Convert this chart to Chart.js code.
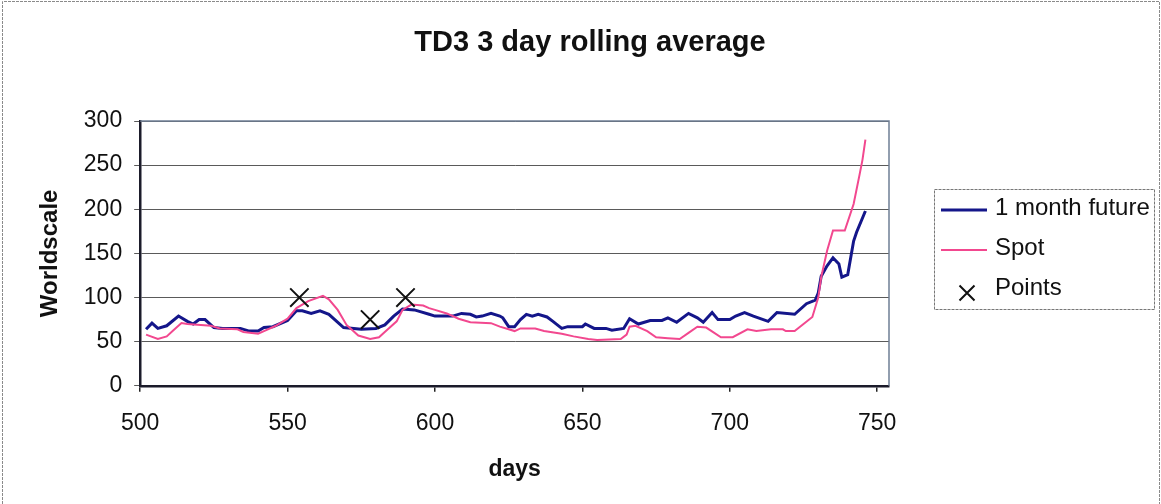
<!DOCTYPE html>
<html>
<head>
<meta charset="utf-8">
<title>TD3 3 day rolling average</title>
<script src="https://cdn.jsdelivr.net/npm/chart.js@4.4.1/dist/chart.umd.min.js"></script>
<style>
  html, body { margin: 0; padding: 0; background: #ffffff; }
  #wrap { width: 1161px; height: 504px; position: relative; }
</style>
</head>
<body>
<div id="wrap"><canvas id="c" width="1161" height="504"></canvas></div>
<script>
// 1 month future, 3 day rolling average (Worldscale)
const futureDays = [502, 504, 506, 509, 513, 516, 518, 520, 522, 525, 528, 534, 537, 540, 542, 545, 550, 553, 555, 558,
  561, 564, 566, 569, 575, 580, 583, 586, 589, 593, 595, 598, 600, 602, 606, 609, 612, 614, 616, 619,
  622, 623, 625, 627, 629, 631, 633, 635, 638, 640, 643, 645, 650, 651, 654, 658, 660, 664, 666, 669,
  673, 677, 679, 682, 686, 689, 691, 694, 696, 700, 702, 705, 708, 713, 716, 722, 726, 729, 730, 731,
  733, 735, 737, 738, 740, 742, 743, 746];
const futureValues = [64, 71, 65, 68, 79, 73, 70, 75, 75, 66, 65, 65, 62, 62, 66, 67, 74, 85, 85, 82,
  85, 81, 75, 66, 64, 65, 69, 79, 87, 86, 84, 81, 79, 79, 79, 82, 81, 78, 79, 82,
  79, 77, 67, 67, 75, 81, 79, 81, 78, 73, 65, 67, 67, 70, 65, 65, 63, 65, 76, 70,
  74, 74, 77, 72, 82, 77, 72, 83, 75, 75, 79, 83, 79, 73, 83, 81, 93, 97, 105, 124,
  136, 145, 138, 123, 126, 164, 174, 198];

// Spot, 3 day rolling average (Worldscale)
const spotDays = [502, 506, 509, 511, 514, 516, 524, 527, 533, 535, 540, 542, 546, 550, 553, 557, 562, 564, 567, 570,
  574, 578, 581, 584, 587, 589, 592, 596, 598, 600, 604, 608, 612, 619, 622, 625, 627, 629, 634, 637,
  643, 647, 652, 655, 663, 665, 666, 668, 672, 675, 679, 683, 686, 689, 692, 697, 701, 706, 709, 714,
  718, 719, 722, 725, 728, 730, 731, 733, 735, 739, 742, 744, 745, 746];
const spotValues = [58, 53, 56, 62, 71, 70, 68, 65, 64, 61, 59, 62, 68, 76, 88, 96, 102, 98, 86, 69,
  57, 53, 55, 64, 73, 86, 92, 91, 88, 86, 82, 76, 72, 71, 67, 64, 62, 65, 65, 62,
  59, 56, 53, 52, 53, 58, 67, 68, 62, 55, 54, 53, 60, 67, 66, 55, 55, 64, 62, 64,
  64, 62, 62, 70, 78, 100, 123, 153, 176, 176, 206, 239, 256, 279];

// Marked points
const pointDays = [554, 578, 590];
const pointValues = [100, 75, 100];

// Axis ranges and tick steps
const xRange = [500, 754];
const yRange = [0, 300];
const tickStep = 50;

const chartTitle = 'TD3 3 day rolling average';

const toXY = (xs, ys) => xs.map((x, i) => ({ x: x, y: ys[i] }));

const FONT = '"Liberation Sans", Arial, Helvetica, sans-serif';

// white background and thin frame round the whole chart
const frame = {
  id: 'frame',
  beforeDraw(chart) {
    const ctx = chart.ctx;
    ctx.save();
    ctx.fillStyle = '#ffffff';
    ctx.fillRect(0, 0, chart.width, chart.height);
    ctx.strokeStyle = '#8a8a8a';
    ctx.lineWidth = 1;
    ctx.setLineDash([3, 1]);
    ctx.beginPath();
    ctx.moveTo(2.5, chart.height);
    ctx.lineTo(2.5, 1.5);
    ctx.lineTo(chart.width - 1.5, 1.5);
    ctx.lineTo(chart.width - 1.5, chart.height);
    ctx.stroke();
    ctx.restore();
  }
};

// chart heading, centred over the whole picture
const heading = {
  id: 'heading',
  afterDraw(chart) {
    const ctx = chart.ctx;
    ctx.save();
    ctx.font = 'bold 29px ' + FONT;
    ctx.fillStyle = '#111111';
    ctx.textAlign = 'center';
    ctx.textBaseline = 'middle';
    ctx.fillText(chartTitle, 590, 43);
    ctx.restore();
  }
};

// plot area border (top and right edges)
const plotBorder = {
  id: 'plotBorder',
  beforeDatasetsDraw(chart) {
    const { ctx, chartArea: a } = chart;
    ctx.save();
    ctx.strokeStyle = '#6f7f95';
    ctx.lineWidth = 1.5;
    ctx.beginPath();
    ctx.moveTo(a.left, a.top);
    ctx.lineTo(a.right, a.top);
    ctx.lineTo(a.right, a.bottom);
    ctx.stroke();
    ctx.restore();
  }
};

// boxed legend on the right
const boxLegend = {
  id: 'boxLegend',
  afterDraw(chart) {
    const ctx = chart.ctx;
    const box = { x: 934, y: 189, w: 220, h: 120 };
    ctx.save();
    ctx.strokeStyle = '#777777';
    ctx.lineWidth = 1;
    ctx.setLineDash([3, 1]);
    ctx.strokeRect(box.x + 0.5, box.y + 0.5, box.w, box.h);
    ctx.setLineDash([]);
    ctx.font = '24px ' + FONT;
    ctx.fillStyle = '#111111';
    ctx.textBaseline = 'middle';
    ctx.textAlign = 'left';
    const rows = [210, 250, 290];
    chart.data.datasets.forEach((ds, i) => {
      const y = rows[i];
      if (ds.showLine) {
        ctx.strokeStyle = ds.borderColor;
        ctx.lineWidth = ds.borderWidth;
        ctx.beginPath();
        ctx.moveTo(941, y);
        ctx.lineTo(987, y);
        ctx.stroke();
      } else {
        ctx.strokeStyle = ds.pointBorderColor;
        ctx.lineWidth = ds.pointBorderWidth;
        const r = 7.5;
        ctx.beginPath();
        ctx.moveTo(967 - r, y + 3 - r);
        ctx.lineTo(967 + r, y + 3 + r);
        ctx.moveTo(967 - r, y + 3 + r);
        ctx.lineTo(967 + r, y + 3 - r);
        ctx.stroke();
      }
      ctx.fillText(ds.label, 995, y - 2);
    });
    ctx.restore();
  }
};

new Chart(document.getElementById('c'), {
  type: 'scatter',
  data: {
    datasets: [
      {
        label: '1 month future',
        data: toXY(futureDays, futureValues),
        showLine: true,
        borderColor: '#14168a',
        borderWidth: 3,
        pointRadius: 0,
        tension: 0,
        order: 2
      },
      {
        label: 'Spot',
        data: toXY(spotDays, spotValues),
        showLine: true,
        borderColor: '#f2488f',
        borderWidth: 2,
        pointRadius: 0,
        tension: 0,
        order: 1
      },
      {
        label: 'Points',
        data: toXY(pointDays, pointValues),
        showLine: false,
        pointStyle: 'crossRot',
        pointRadius: 13,
        pointBorderColor: '#111111',
        pointBorderWidth: 2,
        pointBackgroundColor: '#111111',
        order: 0
      }
    ]
  },
  options: {
    responsive: false,
    animation: false,
    layout: { padding: { top: 121, left: 10, right: 272, bottom: 21 } },
    plugins: {
      legend: { display: false },
      tooltip: { enabled: false },
      title: { display: false }
    },
    scales: {
      x: {
        type: 'linear',
        min: xRange[0],
        max: xRange[1],
        ticks: {
          stepSize: tickStep,
          includeBounds: false,
          color: '#111111',
          padding: 18,
          maxRotation: 0,
          font: { family: FONT, size: 23 }
        },
        grid: {
          drawOnChartArea: false,
          drawTicks: true,
          tickLength: 6,
          color: '#222222',
          lineWidth: 1.5
        },
        border: { display: true, color: '#1b1b2a', width: 2.5 },
        title: {
          display: true,
          text: 'days',
          color: '#111111',
          font: { family: FONT, size: 23, weight: 'bold' },
          padding: { top: 0, bottom: 0 }
        }
      },
      y: {
        min: yRange[0],
        max: yRange[1],
        ticks: {
          stepSize: tickStep,
          color: '#111111',
          padding: 12,
          font: { family: FONT, size: 23 }
        },
        grid: {
          drawOnChartArea: true,
          drawTicks: true,
          tickLength: 6,
          color: '#5a5a5a',
          lineWidth: 1
        },
        border: { display: true, color: '#1b1b2a', width: 2.5 },
        title: {
          display: true,
          text: 'Worldscale',
          color: '#111111',
          font: { family: FONT, size: 24, weight: 'bold' },
          padding: { top: 26, bottom: 7 }
        }
      }
    }
  },
  plugins: [frame, plotBorder, heading, boxLegend]
});
</script>
</body>
</html>
